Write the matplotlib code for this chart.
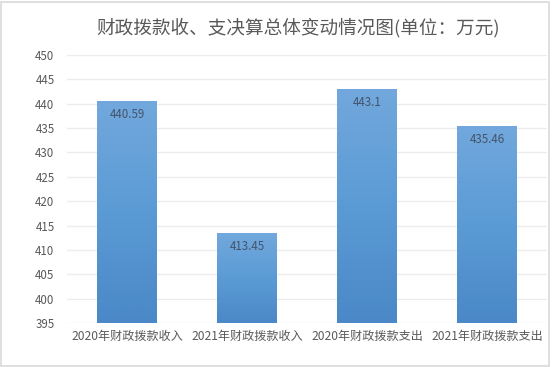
import numpy as np
import matplotlib
matplotlib.use("Agg")
import matplotlib.pyplot as plt
from matplotlib.colors import LinearSegmentedColormap
from matplotlib.patches import Rectangle

plt.rcParams['font.family'] = ['Noto Sans CJK SC', 'DejaVu Sans']

categories = ["2020年财政拨款收入", "2021年财政拨款收入", "2020年财政拨款支出", "2021年财政拨款支出"]
values = [440.59, 413.45, 443.1, 435.46]
labels = ["440.59", "413.45", "443.1", "435.46"]
yticks = [395, 400, 405, 410, 415, 420, 425, 430, 435, 440, 445, 450]
title = "财政拨款收、支决算总体变动情况图(单位：万元)"

W, H = 554, 367
fig = plt.figure(figsize=(W / 100, H / 100), dpi=100)
ax = fig.add_axes([67 / W, 1 - 323 / H, (547 - 67) / W, (323 - 55) / H])

ymin, ymax = 395, 450
ax.set_ylim(ymin, ymax)
ax.set_xlim(-0.5, len(categories) - 0.5)

cmap = LinearSegmentedColormap.from_list("g", ["#4a88c7", "#5b9bd5", "#72a8dd"])
grad = np.linspace(0, 1, 256).reshape(-1, 1)
width = 0.5
bars = ax.bar(range(len(values)), [v - ymin for v in values], bottom=ymin,
              width=width, color="none", edgecolor="none", zorder=2)
for i, (b, v) in enumerate(zip(bars, values)):
    x0 = b.get_x()
    im = ax.imshow(grad, extent=[x0, x0 + width, ymin, v], origin="lower",
                   cmap=cmap, aspect="auto", zorder=2, interpolation="bilinear")
    im.set_clip_path(b)
    ax.text(i, v - 1.5, labels[i], ha="center", va="top", fontsize=8.3,
            color="#44546a", zorder=3)
ax.set_xlim(-0.5, len(categories) - 0.5)
ax.set_ylim(ymin, ymax)

ax.set_yticks(yticks)
ax.set_yticklabels([str(t) for t in yticks])
ax.set_xticks(range(len(categories)))
ax.set_xticklabels(categories)
ax.tick_params(axis="y", length=0, labelsize=8.3, colors="#595959", pad=9)
ax.tick_params(axis="x", length=0, labelsize=8.7, colors="#595959", pad=5)
ax.grid(axis="y", color="#ececec", linewidth=1, zorder=0)
ax.set_axisbelow(True)
for s in ax.spines.values():
    s.set_visible(False)

fig.text(298 / W, 1 - 28 / H, title, ha="center", va="center", fontsize=13.4,
         color="#595959")

fig.patches.append(Rectangle((1 / W, 1 / H), (W - 6) / W, (H - 3) / H,
                             transform=fig.transFigure, fill=False,
                             edgecolor="#d9d9d9", linewidth=1.2))

fig.savefig("out.png", dpi=100)
